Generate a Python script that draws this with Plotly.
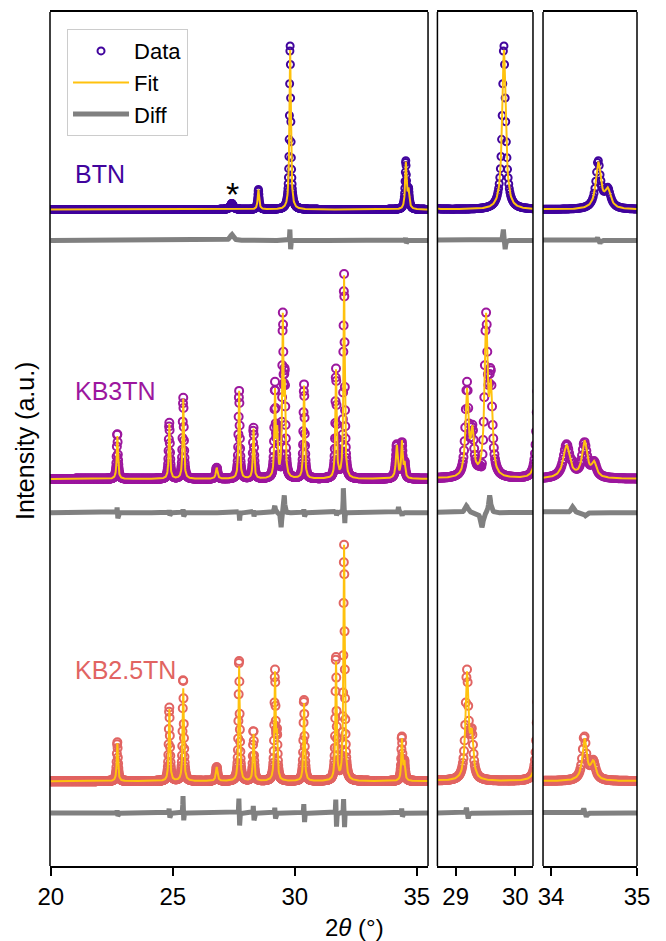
import numpy as np
import plotly.graph_objects as go

# ---------------- data ----------------
# common 2-theta grid (deg), step 0.01
two_theta = np.round(np.arange(2000, 3551) / 100.0, 2)

samples = ["BTN", "KB3TN", "KB2.5TN"]
sample_colors = ["#41049d", "#9c179e", "#e16462"]

# vertical offsets of each pattern (fit baseline) and of its difference curve
base_offsets = [658, 388, 85]
diff_offsets = [627, 354, 53]

# Bragg peaks: position (deg), height (a.u.), FWHM (deg)
btn_pos = [28.51, 29.81, 34.55, 34.66]
btn_hgt = [20, 160, 46, 18]
btn_fwhm = [0.07, 0.07, 0.07, 0.08]

kb3_pos = [22.73, 24.86, 25.43, 26.80, 27.72, 28.31, 29.19, 29.28, 29.51, 29.59,
           30.38, 31.69, 32.02, 34.18, 34.39, 34.50]
kb3_hgt = [43, 55, 80, 11, 88, 50, 85, 42, 155, 80,
           93, 108, 203, 33, 36, 14]
kb3_fwhm = [0.06, 0.06, 0.06, 0.08, 0.06, 0.06, 0.06, 0.06, 0.06, 0.06,
            0.06, 0.06, 0.06, 0.09, 0.07, 0.07]

kb25_pos = [22.73, 24.86, 25.43, 26.80, 27.72, 28.31, 29.19, 29.27, 30.38,
            31.69, 32.02, 34.39, 34.49]
kb25_hgt = [38, 72, 93, 14, 115, 47, 105, 40, 78,
            118, 236, 41, 18]
kb25_fwhm = [0.06, 0.06, 0.06, 0.08, 0.06, 0.06, 0.06, 0.06, 0.06,
             0.06, 0.06, 0.06, 0.07]

# residual (data - fit) features: position, signed amplitude, width
btn_dpos = [27.42, 29.80, 29.83, 34.54, 34.57]
btn_damp = [6, 12, -10, 3, -3]
btn_dwid = [0.15, 0.02, 0.02, 0.02, 0.02]

kb3_dpos = [22.72, 22.75, 24.85, 24.88, 25.42, 25.45, 27.71, 27.74, 28.30, 28.33,
            29.18, 29.44, 29.57, 30.37, 30.40, 31.68, 31.71, 31.99, 32.05,
            34.25, 34.40]
kb3_damp = [6, -6, 3, -3, 4, -4, 3, -8, 3, -4,
            7, -15, 18, 4, -4, 3, -3, 25, -11,
            6, -3]
kb3_dwid = [0.02, 0.02, 0.02, 0.02, 0.02, 0.02, 0.02, 0.02, 0.02, 0.02,
            0.06, 0.05, 0.04, 0.02, 0.02, 0.02, 0.02, 0.02, 0.02,
            0.04, 0.03]

kb25_dpos = [22.72, 22.75, 24.85, 24.88, 25.42, 25.45, 27.71, 27.74, 28.30, 28.33,
             29.18, 29.21, 30.37, 30.40, 31.68, 31.71, 32.00, 32.04, 34.38, 34.41]
kb25_damp = [3, -3, 5, -5, 18, -9, 16, -14, 8, -8,
             6, -6, 10, -10, 15, -15, 15, -15, 5, -4]
kb25_dwid = [0.02] * 20

peaks = [(btn_pos, btn_hgt, btn_fwhm), (kb3_pos, kb3_hgt, kb3_fwhm),
         (kb25_pos, kb25_hgt, kb25_fwhm)]
resid = [(btn_dpos, btn_damp, btn_dwid), (kb3_dpos, kb3_damp, kb3_dwid),
         (kb25_dpos, kb25_damp, kb25_dwid)]

fit_color = "#ffc20e"
diff_color = "#808080"
marker_sizes = [7, 8, 8]

panel_ranges = [[19.97, 35.46], [28.693, 30.297], [33.906, 35.0]]
panel_ticks = [[20, 25, 30, 35], [29, 30], [34, 35]]
panel_domains = [[0.0, 0.644], [0.660, 0.8228], [0.8399, 1.0]]


def lorentz_sum(x, pos, amp, wid):
    y = np.zeros_like(x)
    for p, a, w in zip(pos, amp, wid):
        y += a / (1.0 + ((x - p) / (w / 2.0)) ** 2)
    return y


fig = go.Figure()
FONT = "Liberation Sans, Arial, sans-serif"

for pi in range(3):
    xa = "x" if pi == 0 else f"x{pi + 1}"
    for si in range(3):
        fit = base_offsets[si] + lorentz_sum(two_theta, *peaks[si])
        res = lorentz_sum(two_theta, *resid[si])
        data = fit + res
        diff = diff_offsets[si] + res
        first = (pi == 0 and si == 0)
        fig.add_trace(go.Scatter(
            x=two_theta, y=data, mode="markers", xaxis=xa, yaxis="y",
            marker=dict(symbol="circle-open", size=marker_sizes[si], color=sample_colors[si],
                        line=dict(width=2, color=sample_colors[si])),
            name="Data", legendgroup="data", showlegend=first, hoverinfo="skip"))
        fig.add_trace(go.Scatter(
            x=two_theta, y=fit, mode="lines", xaxis=xa, yaxis="y",
            line=dict(color=fit_color, width=2),
            name="Fit", legendgroup="fit", showlegend=first, hoverinfo="skip"))
        fig.add_trace(go.Scatter(
            x=two_theta, y=diff, mode="lines", xaxis=xa, yaxis="y",
            line=dict(color=diff_color, width=5),
            name="Diff", legendgroup="diff", showlegend=first, hoverinfo="skip"))

layout = dict(
    width=666, height=941,
    margin=dict(l=50, r=29, t=10, b=75),
    paper_bgcolor="white", plot_bgcolor="white",
    font=dict(family=FONT, size=24, color="black"),
    showlegend=True,
    legend=dict(x=0.029, y=0.98, xanchor="left", yanchor="top",
                bgcolor="white", bordercolor="#cccccc", borderwidth=1,
                font=dict(size=22, family=FONT), itemwidth=56,
                traceorder="normal"),
    yaxis=dict(domain=[0, 1], range=[0, 856], showticklabels=False, ticks="",
               showgrid=False, zeroline=False, showline=False),
)
for pi in range(3):
    key = "xaxis" if pi == 0 else f"xaxis{pi + 1}"
    layout[key] = dict(
        domain=panel_domains[pi], range=panel_ranges[pi], anchor="y",
        tickmode="array", tickvals=panel_ticks[pi],
        ticktext=[str(t) for t in panel_ticks[pi]],
        ticks="outside", ticklen=8, tickwidth=1.5, tickcolor="black",
        showline=True, linecolor="black", linewidth=1.5, mirror=True,
        showgrid=False, zeroline=False,
        tickfont=dict(size=24, family=FONT, color="black"))
fig.update_layout(**layout)

# boxes on the left/right sides of each panel (y is shared, draw as shapes)
for pi in range(3):
    xr = "x domain" if pi == 0 else f"x{pi + 1} domain"
    for xv in (0, 1):
        fig.add_shape(type="line", xref=xr, yref="paper", x0=xv, x1=xv, y0=0, y1=1,
                      line=dict(color="black", width=1.5))

# sample labels
label_y = [694, 476, 196]
for si in range(3):
    fig.add_annotation(x=20.91, y=label_y[si], xref="x", yref="y", text=samples[si],
                       showarrow=False, xanchor="left", yanchor="middle",
                       font=dict(size=25, family=FONT, color=sample_colors[si]))
# impurity marker
fig.add_annotation(x=27.43, y=674, xref="x", yref="y", text="*", showarrow=False,
                   xanchor="center", yanchor="middle",
                   font=dict(size=34, family=FONT, color="black"))

# axis titles
fig.add_annotation(x=0.518, y=-0.072, xref="paper", yref="paper",
                   text="2<i>θ</i> (°)", showarrow=False, xanchor="center",
                   yanchor="middle", font=dict(size=24, family=FONT))
fig.add_annotation(x=-0.0426, y=0.4977, xref="paper", yref="paper",
                   text="Intensity (a.u.)", showarrow=False, textangle=-90,
                   xanchor="center", yanchor="middle", font=dict(size=25, family=FONT))

fig.write_html("out.html")
